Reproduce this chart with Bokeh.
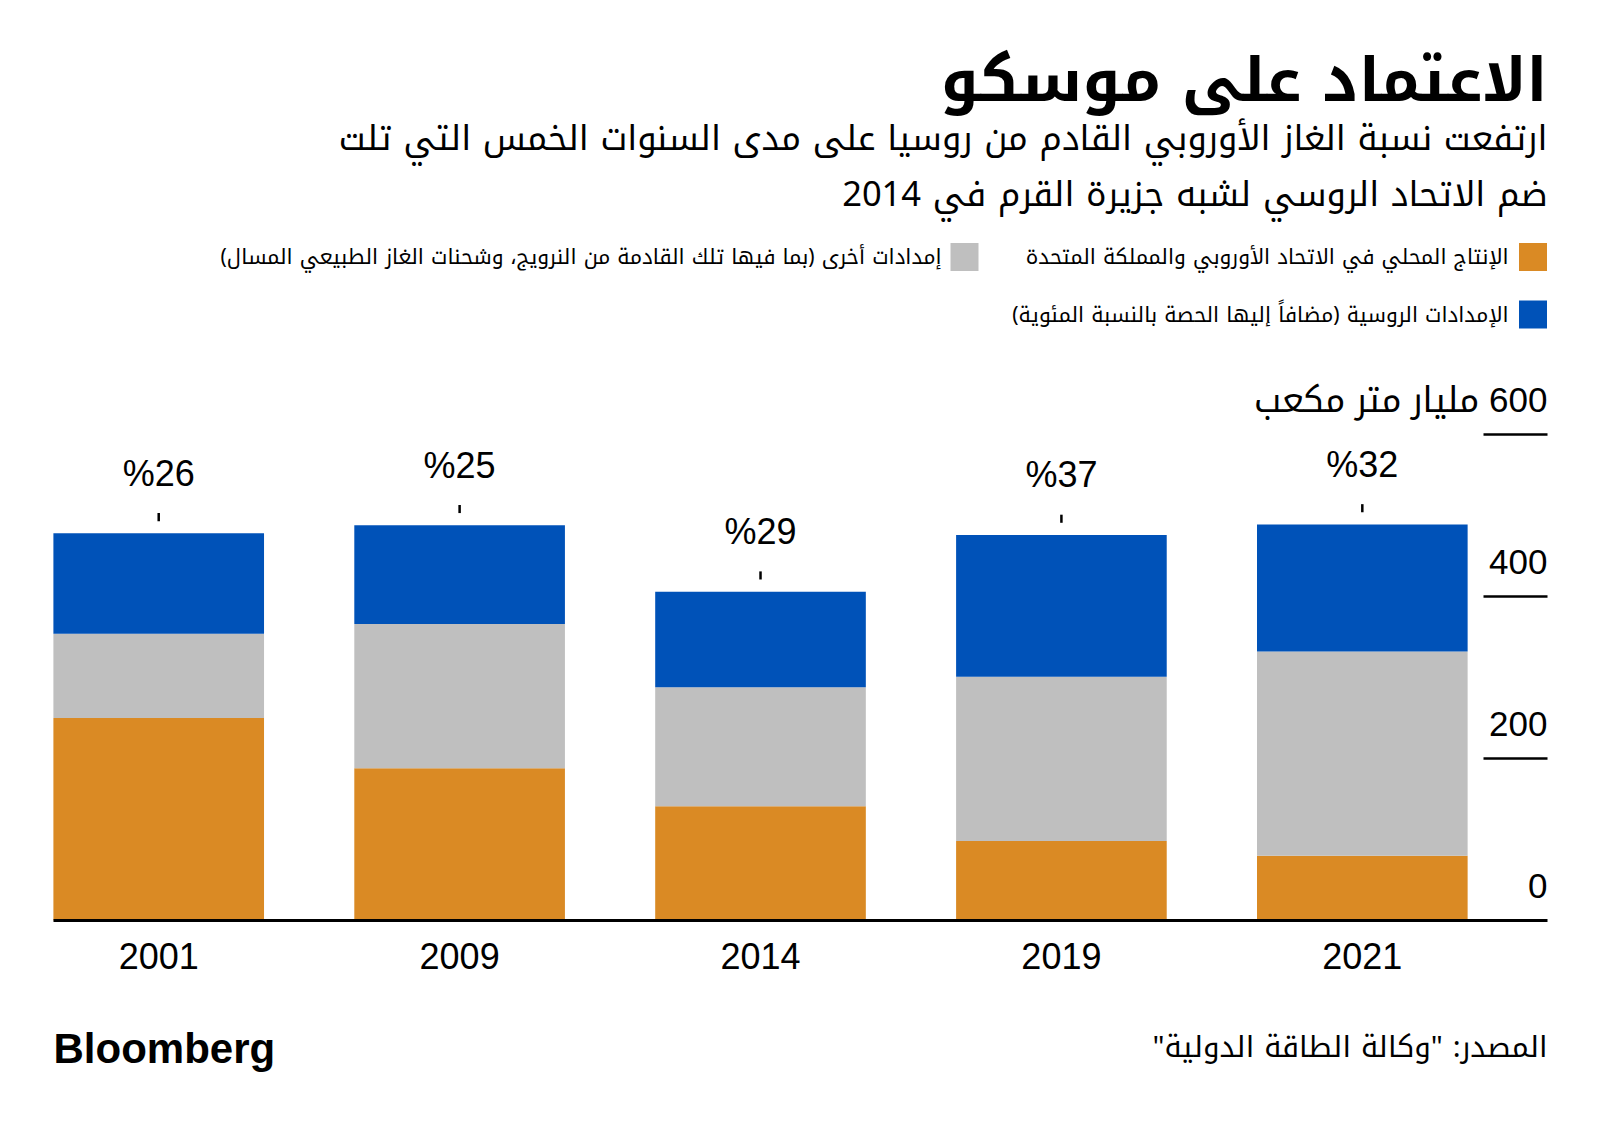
from bokeh.plotting import figure
from bokeh.models import ColumnDataSource, Range1d
from bokeh.embed import file_html
from bokeh.resources import INLINE
from bokeh.core.properties import value

# ---------------- data ----------------
years = ["2001", "2009", "2014", "2019", "2021"]
domestic = [250, 188, 141, 98, 80]        # EU + UK domestic production (bcm)
other = [104, 178, 147, 203, 252]         # other supplies (bcm)
russian = [124, 122, 118, 175, 157]       # Russian supplies (bcm)
share_labels = ["%26", "%25", "%29", "%37", "%32"]
y_ticks = [0, 200, 400, 600]
y_tick_labels = ["0", "200", "400", "\u200f600 مليار متر مكعب"]

title = "الاعتماد على موسكو"
subtitle1 = "ارتفعت نسبة الغاز الأوروبي القادم من روسيا على مدى السنوات الخمس التي تلت"
subtitle2 = "ضم الاتحاد الروسي لشبه جزيرة القرم في 2014"
legend_labels = [
    "الإنتاج المحلي في الاتحاد الأوروبي والمملكة المتحدة",
    "إمدادات أخرى (بما فيها تلك القادمة من النرويج، وشحنات الغاز الطبيعي المسال)\u200f",
    "الإمدادات الروسية (مضافاً إليها الحصة بالنسبة المئوية)\u200f",
]
source_text = "المصدر: \"وكالة الطاقة الدولية\"\u200f"
colors = ["#DA8A24", "#BFBFBF", "#0052B8"]

# ---------------- layout ----------------
W, H = 1584, 1100
AR = "Noto Kufi Arabic, DejaVu Sans"
NUM = "Liberation Sans"

x_idx = list(range(len(years)))
totals = [d + o + r for d, o, r in zip(domestic, other, russian)]

src = ColumnDataSource(dict(x=x_idx, domestic=domestic, other=other, russian=russian,
                            total=totals, share=share_labels, year=years))

p = figure(width=W, height=H, output_backend="svg", toolbar_location=None,
           x_range=Range1d(-0.5258, 4.7384), y_range=Range1d(-222.22, 1135.80),
           min_border=0, outline_line_color=None, background_fill_color="white",
           border_fill_color="white")
p.extra_x_ranges = {"px": Range1d(0, W)}
p.extra_y_ranges = {"px": Range1d(H, 0)}
p.axis.visible = False
p.grid.visible = False

# stacked bars
p.vbar_stack(["domestic", "other", "russian"], x="x", width=0.7, color=colors,
             line_color=None, source=src)

# baseline
p.segment(x0=[53], x1=[1547], y0=[0], y1=[0], x_range_name="px",
          line_color="black", line_width=3)

# y axis (right side, labels above short rules)
tick_lines = [t for t in y_ticks if t > 0]
p.segment(x0=[1483] * len(tick_lines), x1=[1547] * len(tick_lines), y0=tick_lines, y1=tick_lines,
          x_range_name="px", line_color="black", line_width=2.5)
ysrc = ColumnDataSource(dict(y=y_ticks, t=y_tick_labels, x=[1547] * len(y_ticks)))
p.text(x="x", y="y", text="t", source=ysrc, x_range_name="px",
       text_font=value("Liberation Sans, Noto Kufi Arabic"), text_font_size="35px",
       text_align="right", text_baseline="middle", y_offset=-35, text_color="black")

# share ticks and labels above bars
tsrc = ColumnDataSource(dict(x=x_idx, y0=[t + 15 for t in totals], y1=[t + 25 for t in totals]))
p.segment(x0="x", x1="x", y0="y0", y1="y1", source=tsrc, line_color="black", line_width=2.5)
p.text(x="x", y="total", text="share", source=src, text_font=value(NUM),
       text_font_size="36px", text_align="center", text_baseline="middle",
       y_offset=-60, text_color="black")

# year labels
p.text(x="x", y=0, text="year", source=src, text_font=value(NUM),
       text_font_size="36px", text_align="center", text_baseline="middle",
       y_offset=35, text_color="black")

# title + subtitle
p.text(x=[1547], y=[80], text=[title], x_range_name="px", y_range_name="px",
       text_font=value(AR), text_font_style="bold", text_font_size="61px",
       text_align="right", text_baseline="middle", text_color="black")
p.text(x=[1547, 1547], y=[138, 194], text=[subtitle1, subtitle2], x_range_name="px", y_range_name="px",
       text_font=value(AR), text_font_size="34.5px",
       text_align="right", text_baseline="middle", text_color="black")

# legend
lx_sw = [1532.5, 964, 1532.5]
ly = [256.5, 256.5, 314]
lx_tx = [1508, 941, 1508]
p.rect(x=lx_sw, y=ly, width=28, height=28, x_range_name="px", y_range_name="px",
       fill_color=colors, line_color=None)
p.text(x=lx_tx, y=ly, text=legend_labels, x_range_name="px", y_range_name="px",
       text_font=value(AR), text_font_size="21px",
       text_align="right", text_baseline="middle", text_color="black")

# footer
p.text(x=[53], y=[1048], text=["Bloomberg"], x_range_name="px", y_range_name="px",
       text_font=value("Liberation Sans"), text_font_style="bold", text_font_size="42px",
       text_align="left", text_baseline="middle", text_color="black")
p.text(x=[1547], y=[1046], text=[source_text], x_range_name="px", y_range_name="px",
       text_font=value(AR), text_font_size="29.5px",
       text_align="right", text_baseline="middle", text_color="black")

open("out.html", "w").write(file_html(p, INLINE))
